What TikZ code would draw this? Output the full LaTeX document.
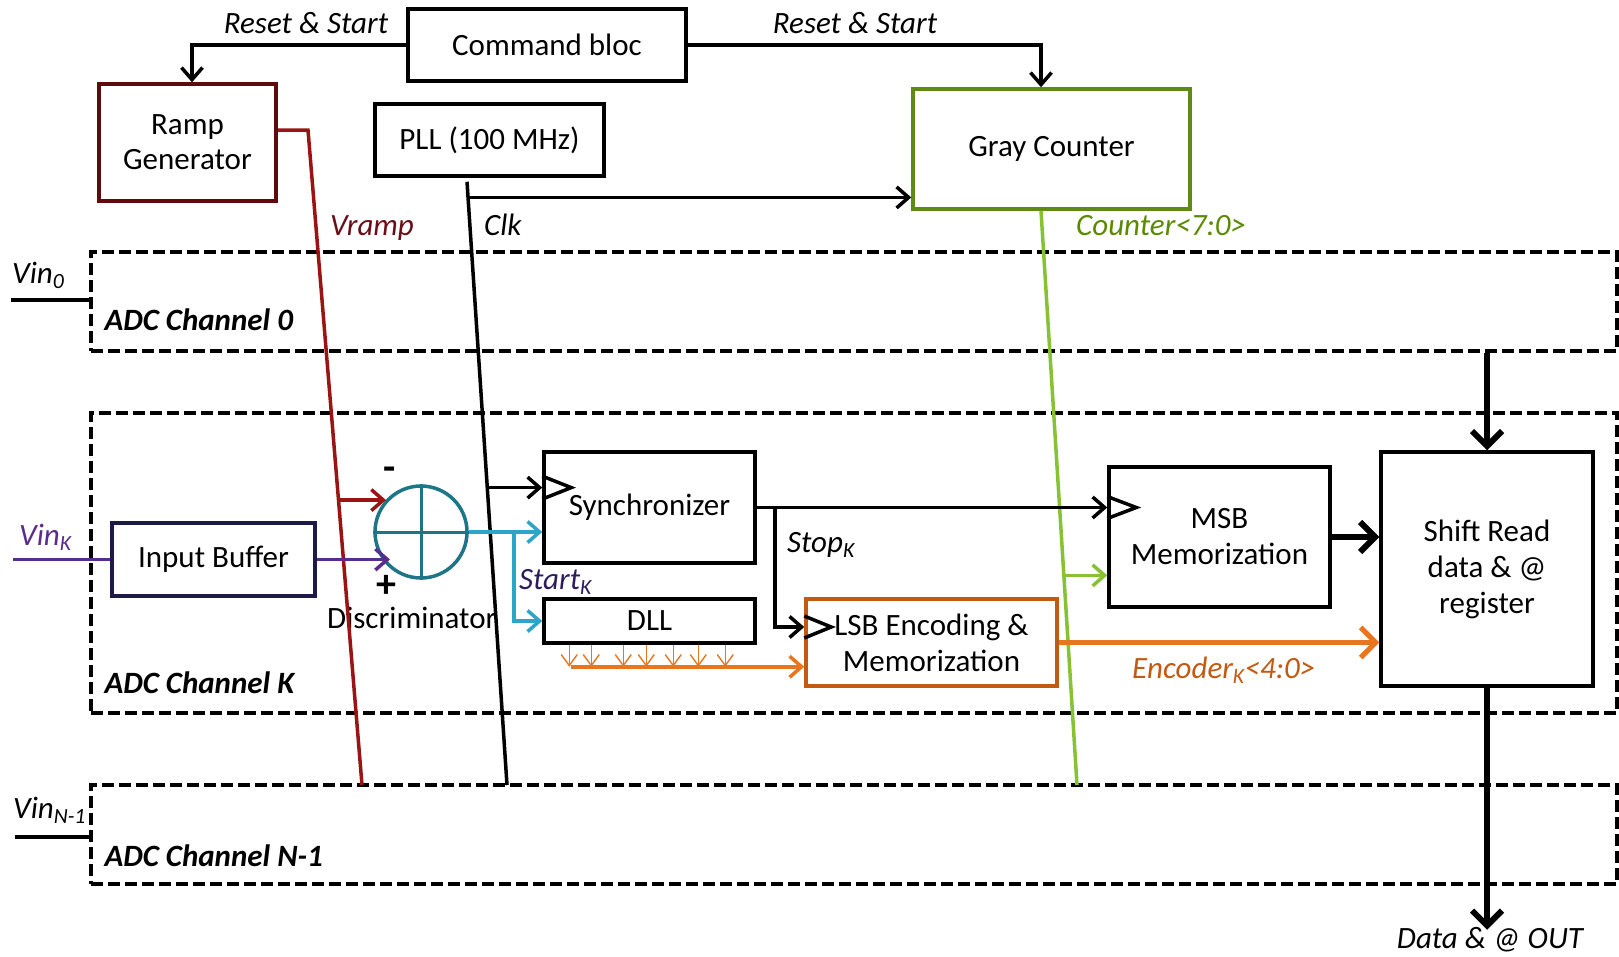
\documentclass[tikz,border=0pt]{standalone}
\usepackage{fontspec}
\setmainfont{Carlito}
\usetikzlibrary{arrows.meta,calc}

\definecolor{rampred}{HTML}{5E0B0B}
\definecolor{vrampline}{HTML}{9A1414}
\definecolor{vramptext}{HTML}{6A0E1A}
\definecolor{grayolive}{HTML}{5F8A18}
\definecolor{cntgreen}{HTML}{86C232}
\definecolor{cnttext}{HTML}{5B8A00}
\definecolor{lsborange}{HTML}{C25A12}
\definecolor{busorange}{HTML}{E8761E}
\definecolor{discteal}{HTML}{1D7688}
\definecolor{startcyan}{HTML}{2CA5C8}
\definecolor{bufnavy}{HTML}{1C1A48}
\definecolor{vinpurple}{HTML}{5A2D8C}
\definecolor{startnavy}{HTML}{2E1D5E}

\begin{document}
\begin{tikzpicture}[x=1pt,y=-1pt,
  every node/.style={font=\fontsize{31}{36}\selectfont},
  blk/.style={draw, line width=3.5pt, inner sep=0pt, align=center, fill=white},
  chbox/.style={draw, line width=4pt, dash pattern=on 12pt off 5pt, inner sep=0pt},
  conn/.style={line width=3.5pt, -{Straight Barb[length=12pt,width=21pt]}},
  bigconn/.style={line width=6pt, -{Straight Barb[length=15pt,width=30pt]}},
  tap/.style={busorange, line width=1.4pt, -{Straight Barb[length=11pt,width=16pt]}},
  bus/.style={line width=3.5pt},
  lbl/.style={font=\fontsize{31}{36}\selectfont\itshape},
  chlbl/.style={font=\fontsize{31}{36}\selectfont\bfseries\itshape, anchor=base west},
  clk/.style={line width=3.5pt, line join=miter}
]
\useasboundingbox (0,0) rectangle (1619,956);

% ---- dashed channel frames ----
\node[chbox, minimum width=1526pt, minimum height=99pt]  (ch0) at (854,301.5) {};
\node[chbox, minimum width=1526pt, minimum height=300pt] (chK) at (854,563) {};
\node[chbox, minimum width=1526pt, minimum height=99pt]  (chN) at (854,834.5) {};

\node[chlbl] (lab0) at (101,330) {ADC Channel 0};
\node[chlbl] (labK) at (101,693) {ADC Channel K};
\node[chlbl] (labN) at (101,866) {ADC Channel N-1};

% ---- channel inputs ----
\node[lbl, anchor=base west, inner sep=0pt] (vin0) at (12,283) {Vin\textsubscript{0}};
\node[lbl, anchor=base west, inner sep=0pt, text=vinpurple] (vinK) at (19,545) {Vin\textsubscript{K}};
\node[lbl, anchor=base west, inner sep=0pt] (vinN) at (13,818) {Vin\textsubscript{N-1}};
\coordinate (in0) at (11,300);
\coordinate (inN) at (15,837);
\coordinate (inK) at (13,559.5);
\draw[line width=3.5pt] (in0) -- (in0 -| ch0.west);
\draw[line width=3.5pt] (inN) -- (inN -| chN.west);

% ---- global blocks ----
\node[blk, minimum width=278pt, minimum height=72pt] (cmd) at (547,45) {Command bloc};
\node[blk, draw=rampred, minimum width=177pt, minimum height=117pt, font=\fontsize{31}{35}\selectfont] (ramp) at (187.5,142.5) {Ramp\\Generator};
\node[blk, minimum width=229pt, minimum height=72pt] (pll) at (489.5,140) {PLL (100 MHz)};
\node[blk, draw=grayolive, minimum width=277pt, minimum height=120pt] (gray) at (1051.5,149) {Gray Counter};

% ---- channel K blocks ----
\node[blk, draw=bufnavy, minimum width=203pt, minimum height=73pt] (ibuf) at (213.5,559.5) {Input Buffer};
\node[blk, minimum width=211pt, minimum height=111pt] (sync) at (649.5,507.5) {Synchronizer};
\node[blk, minimum width=211pt, minimum height=44pt] (dll) at (649.5,621) {DLL};
\node[blk, minimum width=221pt, minimum height=140pt, font=\fontsize{31}{36}\selectfont] (msb) at (1219.5,537) {MSB\\Memorization};
\node[blk, draw=lsborange, minimum width=251pt, minimum height=87pt, font=\fontsize{31}{36}\selectfont] (lsb) at (931.5,642.5) {LSB Encoding \&\\Memorization};
\node[blk, minimum width=212pt, minimum height=234pt, font=\fontsize{31}{36}\selectfont] (shift) at (1487,569) {Shift Read\\data \& @\\register};

% ---- discriminator ----
\node[circle, draw=discteal, line width=3.5pt, minimum size=92pt, inner sep=0pt, fill=white] (disc) at (421,532) {};
\draw[discteal, line width=3pt] (disc.north) -- (disc.south) (disc.west) -- (disc.east);
\node[font=\fontsize{40}{40}\selectfont\bfseries] (minus) at (390,474) {-};
\node[font=\fontsize{40}{40}\selectfont\bfseries] (plus) at (386,586) {+};
\node[anchor=base west, inner sep=0pt] (disclbl) at (327,628) {Discriminator};

% ---- command bloc outputs ----
\coordinate (rampin) at ($(ramp.north)+(4.5,0)$);
\coordinate (grayin) at ($(gray.north)+(-10.5,0)$);
\draw[conn] (cmd.west) -| (rampin);
\draw[conn] (cmd.east) -| (grayin);
\node[lbl, anchor=base] (rs1) at (306,33) {Reset \& Start};
\node[lbl, anchor=base] (rs2) at (855,33) {Reset \& Start};

% ---- Vramp bus ----
\coordinate (vr0) at ($(ramp.east)+(0,-12.5)$);
\coordinate (vr1) at (308,130);
\coordinate (vr2) at (362,785);
\draw[vrampline, bus, line join=miter] (vr0) -- (vr1) -- (vr2);
\node[lbl, anchor=base west, text=vramptext, inner sep=0pt] (vramplbl) at (330,235) {Vramp};
\coordinate (vrm) at ($(vr1)!0.565!(vr2)$);
\coordinate (dm) at ($(disc.center)+(-35,-32)$);
\draw[vrampline, conn] (vrm) -- (vrm -| dm);

% ---- clock bus ----
\coordinate (ck0) at ($(pll.south)+(-22.5,4)$);
\coordinate (ck1) at (507,785);
\draw[bus] (ck0) -- (ck1);
\coordinate (ckg) at ($(ck0)!0.026!(ck1)$);
\draw[conn] (ckg) -- (ckg -| gray.west);
\node[lbl, anchor=base west, inner sep=0pt] (clklbl) at (484,235) {Clk};
\coordinate (cks) at ($(ck0)!0.507!(ck1)$);
\coordinate (ckt) at (cks -| sync.west);
\draw[conn] (cks) -- (ckt);
\draw[clk] ($(ckt)+(0,-11.5)$) -- ++(29,11.5) -- ++(-29,11.5);

% ---- counter bus ----
\coordinate (cn0) at ($(gray.south)+(-10.5,0)$);
\coordinate (cn1) at (1077,785);
\draw[cntgreen, bus] (cn0) -- (cn1);
\node[lbl, anchor=base west, text=cnttext, inner sep=0pt] (cntlbl) at (1076,235) {Counter<7:0>};
\coordinate (cnm) at ($(cn0)!0.635!(cn1)$);
\draw[cntgreen, conn] (cnm) -- (cnm -| msb.west);

% ---- input path ----
\draw[vinpurple, bus] (inK) -- (ibuf.west);
\coordinate (dp) at ($(disc.center)+(-31,26)$);
\draw[vinpurple, conn] (ibuf.east) -- (ibuf.east -| dp);

% ---- start signal ----
\draw[startcyan, conn] (disc.east) -- (disc.east -| sync.west);
\coordinate (sb) at ($(disc.east)+(45,0)$);
\draw[startcyan, conn] (sb) |- (dll.west);
\node[lbl, anchor=base west, text=startnavy, inner sep=0pt] (startlbl) at (519,589) {Start\textsubscript{K}};

% ---- stop signal ----
\coordinate (msbck) at (sync.east -| msb.west);
\draw[conn] (sync.east) -- (msbck);
\draw[clk] ($(msbck)+(0,-11)$) -- ++(29,11) -- ++(-29,11);
\coordinate (sbr) at ($(sync.east)+(18,0)$);
\coordinate (lsbck) at ($(lsb.west)+(0,-15.5)$);
\draw[conn] (sbr) |- (lsbck);
\draw[clk] ($(lsbck)+(0,-11)$) -- ++(27,11) -- ++(-27,11);
\node[lbl, anchor=base west, inner sep=0pt] (stoplbl) at (787,552) {Stop\textsubscript{K}};

% ---- DLL taps ----
\foreach \dx in {27,49,81,104,131,156,183}
  \draw[tap] ($(dll.south west)+(\dx,0)$) -- ++(0,22);
\coordinate (olin) at ($(dll.south west)+(29,22)$);
\draw[busorange, conn] (olin) -- (olin -| lsb.west);

% ---- to shift register ----
\draw[busorange, bigconn, line width=5pt] (lsb.east) -- (lsb.east -| shift.west);
\node[lbl, anchor=base west, text=lsborange, inner sep=0pt] (enclbl) at (1132,678) {Encoder\textsubscript{K}<4:0>};
\draw[bigconn] (msb.east) -- (msb.east -| shift.west);
\draw[bigconn] (shift.north |- ch0.south) -- (shift.north);
\coordinate (dout) at ($(shift.south)+(0,242)$);
\draw[bigconn] (shift.south) -- (dout);
\node[lbl, anchor=base, inner sep=0pt] (doutlbl) at (1490,948) {Data \& @ OUT};
\end{tikzpicture}
\end{document}
